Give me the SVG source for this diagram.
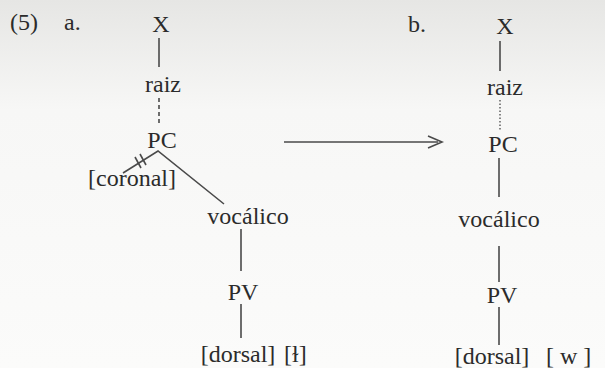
<svg xmlns="http://www.w3.org/2000/svg" width="605" height="368" viewBox="0 0 605 368">
<defs>
<linearGradient id="bg" x1="0" y1="0" x2="0" y2="1">
<stop offset="0" stop-color="#e6e6e4"/>
<stop offset="0.3" stop-color="#f7f7f6"/>
<stop offset="1" stop-color="#fbfbfa"/>
</linearGradient>
<style>
text{font-size:24px;fill:#2b2b2b}
.m{text-anchor:middle}
.ln{stroke:#4a4a4a;stroke-width:1.6;fill:none}
.d{stroke-dasharray:4 3}
.dt{stroke-dasharray:1.5 2;stroke-width:1.3}
</style>
</defs>
<rect width="605" height="368" fill="url(#bg)"/>
<g font-family="'Liberation Serif', 'DejaVu Serif', serif">
<text x="10" y="30">(5)</text>
<text x="64" y="30">a.</text>
<text x="408" y="32">b.</text>
<g id="connectors">
<line class="ln" x1="159" y1="38" x2="159" y2="67"/>
<line class="ln d" x1="159" y1="98" x2="159" y2="126"/>
<polyline class="ln" points="123,173 158,151 224,204"/>
<line class="ln" x1="140" y1="154" x2="146" y2="165"/>
<line class="ln" x1="135" y1="157" x2="141" y2="168"/>
<line class="ln" x1="241" y1="229" x2="241" y2="271"/>
<line class="ln" x1="241" y1="304" x2="241" y2="338"/>
<line class="ln" x1="500" y1="41" x2="500" y2="71"/>
<line class="ln dt" x1="500" y1="100" x2="500" y2="130"/>
<line class="ln" x1="499" y1="158" x2="499" y2="197"/>
<line class="ln" x1="499" y1="246" x2="499" y2="282"/>
<line class="ln" x1="499" y1="307" x2="499" y2="345"/>
<line class="ln" x1="284" y1="142" x2="438" y2="142"/>
<polyline class="ln" points="428,136 442,142 428,148"/>
</g>
<g id="a-X"><text class="m" x="161" y="32">X</text></g>
<g id="a-raiz"><text class="m" x="163" y="92">raiz</text></g>
<g id="a-PC"><text class="m" x="162" y="148">PC</text></g>
<g id="a-coronal"><text class="m" x="132" y="186">[coronal]</text></g>
<g id="a-vocalico"><text class="m" x="248" y="224">vocálico</text></g>
<g id="a-PV"><text class="m" x="243" y="300">PV</text></g>
<g id="a-dorsal"><text class="m" x="238" y="362">[dorsal]</text></g>
<g id="a-l"><text x="284" y="362">[ɫ]</text></g>
<g id="b-X"><text class="m" x="505" y="34">X</text></g>
<g id="b-raiz"><text class="m" x="505" y="95">raiz</text></g>
<g id="b-PC"><text class="m" x="503" y="152">PC</text></g>
<g id="b-vocalico"><text class="m" x="499" y="227">vocálico</text></g>
<g id="b-PV"><text class="m" x="502" y="303">PV</text></g>
<g id="b-dorsal"><text class="m" x="492" y="364">[dorsal]</text></g>
<g id="b-w"><text x="546" y="364">[ w ]</text></g>
</g>
</svg>
